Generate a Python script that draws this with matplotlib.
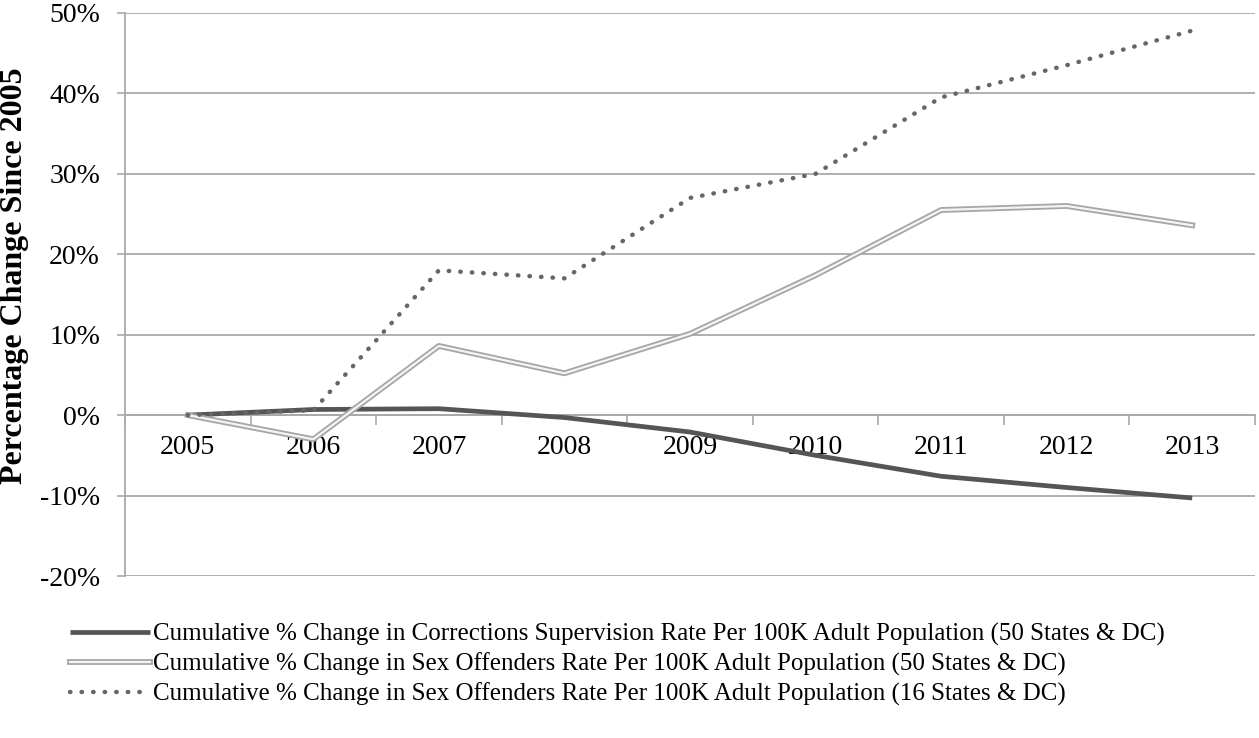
import matplotlib.pyplot as plt
import matplotlib.patheffects as pe
from matplotlib.ticker import FixedLocator, FuncFormatter

plt.rcParams['font.family'] = ['Liberation Serif', 'DejaVu Serif']

years = ["2005", "2006", "2007", "2008", "2009", "2010", "2011", "2012", "2013"]

# cumulative % change since 2005
corrections_50 = [0.0, 0.7, 0.8, -0.3, -2.1, -5.0, -7.6, -9.0, -10.3]
sexoff_50 = [0.0, -3.0, 8.6, 5.2, 10.1, 17.4, 25.5, 26.0, 23.6]
sexoff_16 = [0.0, 0.6, 18.0, 17.0, 27.0, 30.0, 39.5, 43.5, 47.8]

labels = [
    "Cumulative % Change in Corrections Supervision Rate Per 100K Adult Population (50 States & DC)",
    "Cumulative % Change in Sex Offenders Rate Per 100K Adult Population (50 States & DC)",
    "Cumulative % Change in Sex Offenders Rate Per 100K Adult Population (16 States & DC)",
]

fig = plt.figure(figsize=(12.59, 7.38), dpi=100)
ax = fig.add_axes([0.0993, 0.2195, 0.8975, 0.763])

xs = list(range(len(years)))

ax.plot(xs, corrections_50, color='#555555', lw=3.4, solid_capstyle='butt',
        label=labels[0], zorder=3)
ax.plot(xs, sexoff_50, color='#f4f4f4', lw=1.6, label=labels[1], zorder=4,
        path_effects=[pe.Stroke(linewidth=4.2, foreground='#a6a6a6'), pe.Normal()])
ax.plot(xs, sexoff_16, color='#666666', lw=3.2, linestyle=(0, (0.1, 2.5)),
        dash_capstyle='round', label=labels[2], zorder=5)

ax.set_xlim(-0.5, len(years) - 0.5)
ax.set_ylim(-20, 50)

# y axis
ax.set_yticks(range(-20, 51, 10))
ax.yaxis.set_major_formatter(FuncFormatter(lambda v, p: f"{int(v)}%"))
ax.yaxis.grid(True, color='#a9a9a9', lw=1.3)
ax.set_axisbelow(True)
ax.tick_params(axis='y', length=6, width=1.2, color='#a9a9a9', labelsize=20,
               pad=12)

# x axis at zero, category ticks between labels
ax.spines['bottom'].set_position(('data', 0))
ax.spines['bottom'].set_color('#a9a9a9')
ax.spines['bottom'].set_linewidth(1.3)
ax.spines['left'].set_color('#a9a9a9')
ax.spines['left'].set_linewidth(1.3)
ax.spines['top'].set_visible(False)
ax.spines['right'].set_visible(False)

ax.xaxis.set_major_locator(FixedLocator([i - 0.5 for i in range(len(years) + 1)]))
ax.xaxis.set_major_formatter(FuncFormatter(lambda v, p: ""))
ax.xaxis.set_minor_locator(FixedLocator(xs))
ax.set_xticklabels(years, minor=True)
ax.tick_params(axis='x', which='major', length=7, width=1.2, color='#a9a9a9')
ax.tick_params(axis='x', which='minor', length=0, labelsize=20, pad=14)

ax.set_ylabel("Percentage Change Since 2005", fontsize=23, fontweight='bold')
ax.yaxis.set_label_coords(-0.085, 0.533)

fig.legend(loc='upper left', bbox_to_anchor=(0.0556, 0.156), frameon=False,
           fontsize=18, handlelength=3.2, handletextpad=0.1,
           labelspacing=0.27, borderaxespad=0, borderpad=0)

fig.savefig("out.png", dpi=100)
